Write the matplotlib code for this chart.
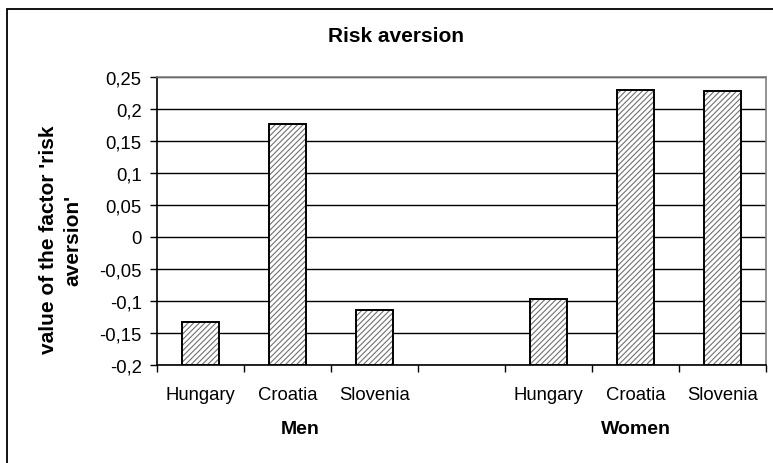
import numpy as np
import matplotlib.pyplot as plt
from matplotlib.patches import Rectangle

plt.rcParams['font.family'] = ['Liberation Sans', 'DejaVu Sans']
plt.rcParams['hatch.linewidth'] = 0.8

# factor values per country, grouped by sex
countries = ["Hungary", "Croatia", "Slovenia"]
groups = ["Men", "Women"]
men = [-0.133, 0.177, -0.114]
women = [-0.097, 0.230, 0.228]

yticks = [-0.2, -0.15, -0.1, -0.05, 0, 0.05, 0.1, 0.15, 0.2, 0.25]
ytick_labels = ["-0,2", "-0,15", "-0,1", "-0,05", "0", "0,05", "0,1", "0,15", "0,2", "0,25"]

# one empty slot between the two groups
labels = countries + [""] + countries
values = men + [np.nan] + women
x = np.arange(len(labels))
base = yticks[0]

fig = plt.figure(figsize=(7.73, 4.64), dpi=100)
ax = fig.add_axes([157 / 773, 1 - 365.7 / 464, (766 - 157) / 773, (365.7 - 78) / 464])

mask = ~np.isnan(values)
xs = x[mask]
heights = np.array(values)[mask] - base
# hatched fill in grey, then a black outline on top
ax.bar(xs, heights, bottom=base, width=0.42, color="white", edgecolor="#707070",
       hatch="//////", linewidth=0, zorder=3)
ax.bar(xs, heights, bottom=base, width=0.42, color="none", edgecolor="black",
       linewidth=1.4, zorder=4)

ax.set_xlim(-0.5, len(labels) - 0.5)
ax.set_ylim(yticks[0], yticks[-1])
ax.set_yticks(yticks, ytick_labels)
ax.yaxis.grid(True, color="black", linewidth=1.0)
ax.set_axisbelow(True)
ax.tick_params(axis="y", length=5, width=1, pad=6, labelsize=13.3)

ax.set_xticks(x[mask], [labels[i] for i in xs])
ax.set_xticks(np.arange(-0.5, len(labels)), minor=True)
ax.tick_params(axis="x", which="major", length=0, pad=15, labelsize=13.3)
ax.tick_params(axis="x", which="minor", length=5, width=1)

for side in ["top", "right"]:
    ax.spines[side].set_color("#808080")
    ax.spines[side].set_linewidth(1.2)
for side in ["left", "bottom"]:
    ax.spines[side].set_color("black")
    ax.spines[side].set_linewidth(1.2)

tr = ax.get_xaxis_transform()
ax.text(1.15, -0.223, groups[0], transform=tr, ha="center", va="center",
        fontsize=14, fontweight="bold")
ax.text(5.0, -0.223, groups[1], transform=tr, ha="center", va="center",
        fontsize=14, fontweight="bold")

fig.text(396 / 773, 1 - 37 / 464, "Risk aversion", ha="center", va="center",
         fontsize=15, fontweight="bold")
fig.text(61 / 773, 1 - 240 / 464, "value of the factor 'risk\naversion'",
         rotation=90, ha="center", va="center", fontsize=15,
         fontweight="bold", linespacing=1.35)

# outer chart frame, running off the right and bottom edges
fig.patches.append(Rectangle((7 / 773, -0.1), 1.1, 1.1 - 10 / 464,
                             transform=fig.transFigure, fill=False,
                             edgecolor="black", linewidth=1.3))

fig.savefig("out.png", dpi=100)
